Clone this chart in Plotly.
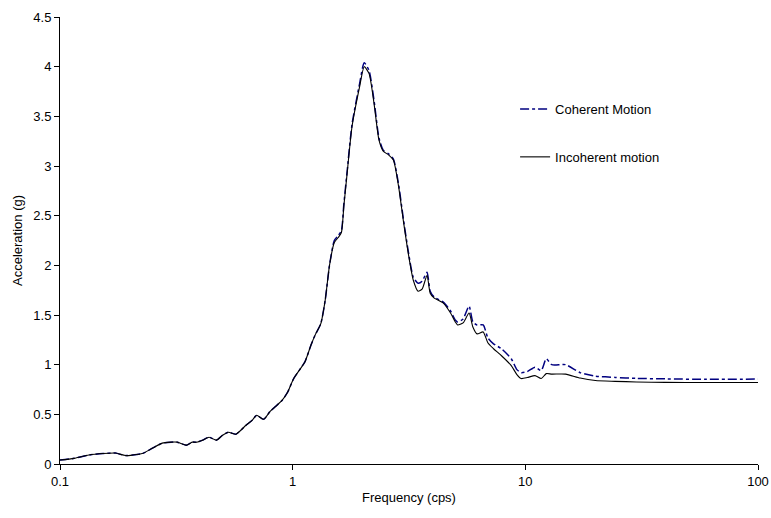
import plotly.graph_objects as go

freq_inc = [0.1, 0.115, 0.133, 0.153, 0.173, 0.191, 0.205, 0.226, 0.25, 0.275, 0.3, 0.319, 0.35, 0.37, 0.387, 0.41, 0.437, 0.47, 0.5, 0.53, 0.57, 0.63, 0.67, 0.70, 0.75, 0.8, 0.845, 0.9, 0.95, 1.01, 1.08, 1.13, 1.2, 1.25, 1.32, 1.38, 1.44, 1.51, 1.57, 1.62, 1.66, 1.71, 1.80, 1.94, 2.03, 2.13, 2.24, 2.35, 2.45, 2.59, 2.71, 2.85, 2.99, 3.15, 3.3, 3.46, 3.6, 3.78, 3.9, 4.06, 4.44, 4.77, 5.0, 5.12, 5.4, 5.73, 5.95, 6.2, 6.59, 6.9, 7.3, 7.9, 8.7, 9.2, 9.6, 10.2, 11.0, 11.7, 12.3, 13.0, 14.9, 17.2, 20.0, 24.3, 30.0, 40.0, 60.0, 100.0]
acc_inc = [0.04, 0.057, 0.09, 0.105, 0.11, 0.085, 0.09, 0.105, 0.16, 0.21, 0.22, 0.22, 0.19, 0.22, 0.22, 0.24, 0.27, 0.24, 0.29, 0.32, 0.30, 0.39, 0.44, 0.49, 0.45, 0.53, 0.58, 0.64, 0.72, 0.86, 0.96, 1.03, 1.2, 1.3, 1.41, 1.65, 2.0, 2.23, 2.28, 2.33, 2.6, 2.9, 3.4, 3.8, 4.0, 3.93, 3.62, 3.26, 3.15, 3.11, 3.06, 2.8, 2.45, 2.1, 1.85, 1.74, 1.76, 1.9, 1.72, 1.67, 1.62, 1.52, 1.43, 1.40, 1.42, 1.52, 1.38, 1.31, 1.33, 1.22, 1.16, 1.09, 0.99, 0.9, 0.86, 0.87, 0.89, 0.86, 0.91, 0.905, 0.905, 0.865, 0.84, 0.832, 0.826, 0.822, 0.82, 0.82]

freq_coh = [0.1, 0.115, 0.133, 0.153, 0.173, 0.191, 0.205, 0.226, 0.25, 0.275, 0.3, 0.319, 0.35, 0.37, 0.387, 0.41, 0.437, 0.47, 0.5, 0.53, 0.57, 0.63, 0.67, 0.70, 0.75, 0.8, 0.845, 0.9, 0.95, 1.01, 1.08, 1.13, 1.2, 1.25, 1.32, 1.38, 1.44, 1.51, 1.57, 1.62, 1.66, 1.71, 1.80, 1.94, 2.03, 2.13, 2.24, 2.35, 2.45, 2.59, 2.71, 2.85, 2.99, 3.15, 3.3, 3.46, 3.6, 3.78, 3.9, 4.06, 4.44, 4.77, 5.0, 5.12, 5.4, 5.73, 5.95, 6.2, 6.59, 6.9, 7.3, 7.9, 8.7, 9.2, 9.6, 10.2, 11.0, 11.7, 12.3, 13.0, 14.9, 17.2, 20.0, 24.3, 30.0, 40.0, 60.0, 100.0]
acc_coh = [0.04, 0.057, 0.09, 0.105, 0.11, 0.085, 0.09, 0.105, 0.16, 0.21, 0.22, 0.22, 0.19, 0.22, 0.22, 0.24, 0.27, 0.24, 0.29, 0.32, 0.30, 0.39, 0.44, 0.49, 0.45, 0.53, 0.58, 0.64, 0.72, 0.86, 0.96, 1.03, 1.2, 1.3, 1.41, 1.65, 2.0, 2.25, 2.3, 2.35, 2.62, 2.92, 3.42, 3.83, 4.04, 3.96, 3.65, 3.28, 3.16, 3.12, 3.07, 2.82, 2.47, 2.12, 1.88, 1.82, 1.84, 1.93, 1.74, 1.68, 1.63, 1.54, 1.45, 1.43, 1.46, 1.59, 1.43, 1.40, 1.40, 1.27, 1.21, 1.16, 1.06, 0.95, 0.92, 0.93, 0.975, 0.94, 1.06, 1.0, 1.0, 0.92, 0.885, 0.872, 0.862, 0.857, 0.852, 0.855]

x_tickvals = [0.1, 1, 10, 100]
x_ticktext = ["0.1", "1", "10", "100"]

fig = go.Figure()
fig.add_trace(go.Scatter(
    x=freq_coh, y=acc_coh, mode="lines", name="Coherent Motion",
    line=dict(color="#000080", width=1.5, dash="dashdot", shape="spline", smoothing=0.6),
    legend="legend", showlegend=True,
))
fig.add_trace(go.Scatter(
    x=freq_inc, y=acc_inc, mode="lines", name="Incoherent motion",
    line=dict(color="#000000", width=1.1, shape="spline", smoothing=0.6),
    legend="legend2", showlegend=True,
))

font = dict(family="Liberation Sans, Arial, sans-serif", size=13, color="#000000")
fig.update_layout(
    width=771, height=518,
    margin=dict(l=60, r=13, t=17, b=54, autoexpand=False),
    paper_bgcolor="white", plot_bgcolor="white",
    font=font,
    showlegend=True,
    legend=dict(x=0.652, y=0.794, xanchor="left", yanchor="middle",
                bgcolor="rgba(0,0,0,0)", font=font, itemwidth=30, borderwidth=0),
    legend2=dict(x=0.652, y=0.687, xanchor="left", yanchor="middle",
                 bgcolor="rgba(0,0,0,0)", font=font, itemwidth=30, borderwidth=0),
    xaxis=dict(
        type="log", range=[-1, 2], tickvals=x_tickvals, ticktext=x_ticktext,
        showline=True, linecolor="#000000", linewidth=1, mirror=False, automargin=False,
        ticks="outside", ticklen=5, tickcolor="#000000", showgrid=False, zeroline=False,
        title=dict(text="Frequency (cps)", font=font, standoff=5),
    ),
    yaxis=dict(
        range=[0, 4.5], dtick=0.5, tick0=0, automargin=False,
        showline=True, linecolor="#000000", linewidth=1, mirror=False,
        ticks="outside", ticklen=5, tickcolor="#000000", showgrid=False, zeroline=False,
        title=dict(text="Acceleration (g)", font=font, standoff=7),
    ),
)

fig.write_html("out.html")
